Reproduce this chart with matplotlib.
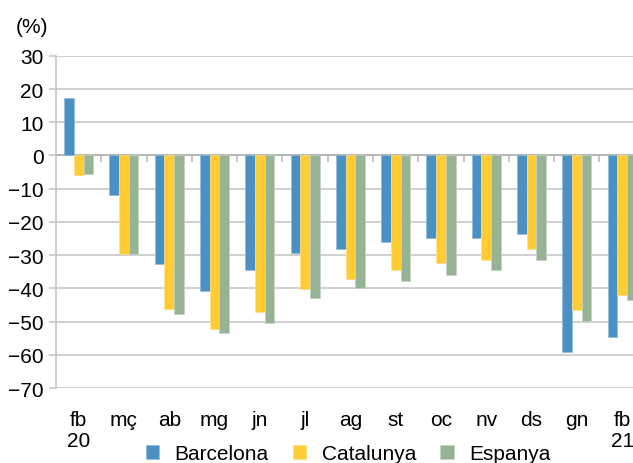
import matplotlib.pyplot as plt
import numpy as np

plt.rcParams["font.family"] = ["Liberation Sans", "DejaVu Sans"]

months = ["fb\n20", "mç", "ab", "mg", "jn", "jl", "ag", "st", "oc", "nv", "ds", "gn", "fb\n21"]
barcelona = [17.3, -11.9, -32.8, -40.8, -34.5, -29.3, -28.1, -26.1, -24.9, -24.9, -23.5, -59.3, -54.5]
catalunya = [-6.0, -29.6, -46.1, -52.3, -47.2, -40.2, -37.1, -34.6, -32.4, -31.4, -28.2, -46.6, -41.9]
espanya = [-5.5, -29.8, -47.8, -53.4, -50.5, -43.0, -39.9, -37.8, -36.1, -34.6, -31.4, -49.8, -43.5]

series = [
    ("Barcelona", barcelona, "#4a90c2", "#8fbbdd"),
    ("Catalunya", catalunya, "#ffcc33", "#ffe08a"),
    ("Espanya", espanya, "#96b396", "#c2d4c2"),
]

fs = 15
grid_color = "#c3c3c3"
width = 0.214

fig = plt.figure(figsize=(6.33, 4.64), dpi=100)
ax = fig.add_axes([0.0885, 0.1616, 1 - 0.0885, 0.716])

x = np.arange(len(months))
for i, (label, vals, color, edge) in enumerate(series):
    ax.bar(x + (i - 1) * width, vals, width, color=color, edgecolor=edge,
           linewidth=0.5, label=label, zorder=3)

ax.set_ylim(-70, 30)
ax.set_xlim(-0.5, 12.24)
ax.set_yticks(np.arange(-70, 31, 10))
ax.yaxis.grid(True, color=grid_color, linewidth=1.1, zorder=0)
ax.set_axisbelow(True)

# axis line at zero with small ticks between categories
ax.axhline(0, color="#b5b5b5", linewidth=1.3, zorder=2)
ax.vlines(x[:-1] + 0.5, -2.1, 0, color="#b5b5b5", linewidth=1.1, zorder=2)

for side in ("top", "right", "bottom"):
    ax.spines[side].set_visible(False)
ax.spines["left"].set_color(grid_color)
ax.spines["left"].set_linewidth(1.1)

ax.tick_params(axis="y", colors=grid_color, length=5, width=1.1, labelsize=fs,
               labelcolor="black", pad=4)
ax.set_xticks(x, months)
ax.tick_params(axis="x", length=0, labelsize=fs, pad=16)
for t in ax.get_xticklabels():
    t.set_linespacing(1.15)
    t.set_verticalalignment("top")

fig.text(0.025, 0.94, "(%)", fontsize=fs, ha="left", va="center")

fig.legend(loc="center", bbox_to_anchor=(0.55, 0.02), ncol=3, frameon=False,
           fontsize=fs, handlelength=0.65, handleheight=0.65, handletextpad=0.75,
           columnspacing=1.15, borderpad=0)

fig.savefig("out.png", dpi=100)
